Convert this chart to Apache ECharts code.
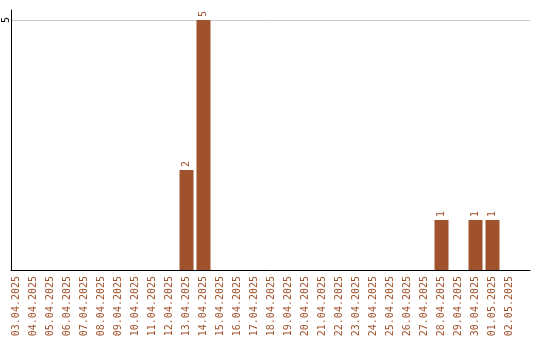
<!DOCTYPE html>
<html>
<head>
<meta charset="utf-8">
<script src="https://cdn.jsdelivr.net/npm/echarts@6/dist/echarts.min.js"></script>
<style>
  html, body { margin: 0; padding: 0; background: #fff; }
  #chart { width: 540px; height: 340px; }
</style>
</head>
<body>
<div id="chart"></div>
<script>
// Daily counts, 03.04.2025 – 02.05.2025
const days = [
  '03.04.2025', '04.04.2025', '05.04.2025', '06.04.2025', '07.04.2025',
  '08.04.2025', '09.04.2025', '10.04.2025', '11.04.2025', '12.04.2025',
  '13.04.2025', '14.04.2025', '15.04.2025', '16.04.2025', '17.04.2025',
  '18.04.2025', '19.04.2025', '20.04.2025', '21.04.2025', '22.04.2025',
  '23.04.2025', '24.04.2025', '25.04.2025', '26.04.2025', '27.04.2025',
  '28.04.2025', '29.04.2025', '30.04.2025', '01.05.2025', '02.05.2025'
];
const counts = [
  0, 0, 0, 0, 0, 0, 0, 0, 0, 0,
  2, 5, 0, 0, 0, 0, 0, 0, 0, 0,
  0, 0, 0, 0, 0, 1, 0, 1, 1, 0
];
const yTicks = [5];

const brown = '#A0522D';
const mono = '"DejaVu Sans Mono", monospace';

const chart = echarts.init(document.getElementById('chart'), null, { renderer: 'canvas' });
chart.setOption({
  animation: false,
  backgroundColor: '#fff',
  grid: [
    // bars
    { left: 8, right: 22, top: 10, bottom: 70, outerBoundsMode: 'none', containLabel: false },
    // frame: axis lines and grid line
    { left: 11, right: 10, top: 10, bottom: 70, outerBoundsMode: 'none', containLabel: false }
  ],
  xAxis: [
    {
      gridIndex: 0,
      type: 'category',
      data: days,
      axisLine: { show: false },
      axisTick: { show: false },
      axisLabel: {
        interval: 0,
        rotate: 90,
        margin: 6,
        color: brown,
        fontFamily: mono,
        fontSize: 10
      }
    },
    {
      gridIndex: 1,
      type: 'value',
      min: 0,
      max: 1,
      axisLine: { show: true, lineStyle: { color: '#000', width: 1 } },
      axisTick: { show: false },
      axisLabel: { show: false },
      splitLine: { show: false }
    }
  ],
  yAxis: [
    {
      gridIndex: 0,
      type: 'value',
      min: 0,
      max: 5.2,
      show: false
    },
    {
      gridIndex: 1,
      type: 'value',
      min: 0,
      max: 5.2,
      interval: 5,
      axisLine: { show: true, lineStyle: { color: '#000', width: 1 } },
      axisTick: { show: false },
      axisLabel: {
        rotate: 90,
        margin: 0,
        color: '#000',
        fontFamily: mono,
        fontSize: 10,
        formatter: v => (yTicks.indexOf(v) >= 0 ? String(v) : '')
      },
      splitLine: {
        show: true,
        showMinLine: false,
        showMaxLine: false,
        lineStyle: { color: '#ccc', width: 1 }
      }
    }
  ],
  series: [
    {
      type: 'bar',
      xAxisIndex: 0,
      yAxisIndex: 0,
      data: counts,
      barWidth: 14,
      itemStyle: { color: brown },
      label: {
        show: true,
        position: 'top',
        rotate: 90,
        align: 'left',
        verticalAlign: 'middle',
        distance: 3,
        color: brown,
        fontFamily: mono,
        fontSize: 10,
        formatter: p => (p.value ? String(p.value) : '')
      }
    }
  ]
});
</script>
</body>
</html>
